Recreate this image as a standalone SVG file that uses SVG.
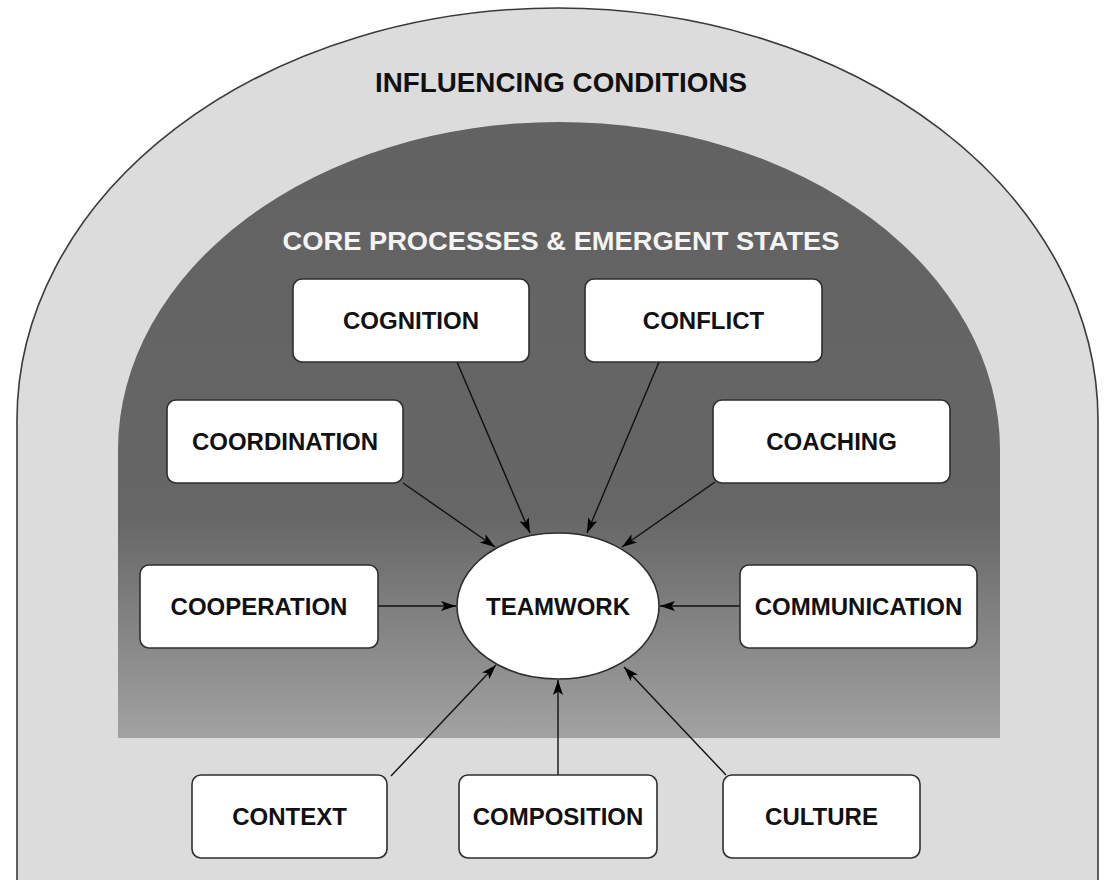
<svg xmlns="http://www.w3.org/2000/svg" width="1109" height="880" viewBox="0 0 1109 880">
  <defs>
    <linearGradient id="coreGrad" gradientUnits="userSpaceOnUse" x1="0" y1="122" x2="0" y2="738">
      <stop offset="0" stop-color="#626262"/>
      <stop offset="0.64" stop-color="#666666"/>
      <stop offset="1" stop-color="#a2a2a2"/>
    </linearGradient>
    <marker id="arrow" markerUnits="userSpaceOnUse" markerWidth="16" markerHeight="12" refX="15" refY="5" orient="auto">
      <path d="M0,0 L15,5 L0,10 L3.5,5 Z" fill="#000"/>
    </marker>
    <style>
      .box { fill: #ffffff; stroke: #2e2e2e; stroke-width: 1.6; }
      .lbl { font-family: "Liberation Sans", Arial, sans-serif; font-weight: bold; font-size: 24px; fill: #111111; text-anchor: middle; }
      .title { font-family: "Liberation Sans", Arial, sans-serif; font-weight: bold; text-anchor: middle; }
      .conn { stroke: #111111; stroke-width: 1.4; fill: none; marker-end: url(#arrow); }
    </style>
  </defs>

  <rect x="0" y="0" width="1109" height="880" fill="#ffffff"/>

  <g id="influencing-conditions">
    <path d="M17 880 L17 420 A540.5 412 0 0 1 1098 420 L1098 880 Z" fill="#dcdcdc"/>
    <path d="M17 880 L17 420 A540.5 412 0 0 1 1098 420 L1098 880" fill="none" stroke="#3a3a3a" stroke-width="1.6"/>
    <text class="title" x="561" y="92" font-size="28" fill="#111111" textLength="372" lengthAdjust="spacingAndGlyphs">INFLUENCING CONDITIONS</text>
  </g>

  <g id="core-processes">
    <path d="M118 738 L118 450 A441 328 0 0 1 1000 450 L1000 738 Z" fill="url(#coreGrad)"/>
    <text class="title" x="561" y="250" font-size="26.5" fill="#f4f4f4" textLength="557" lengthAdjust="spacingAndGlyphs">CORE PROCESSES &amp; EMERGENT STATES</text>
  </g>

  <g id="connectors">
    <line class="conn" x1="457" y1="362" x2="530" y2="533"/>
    <line class="conn" x1="659" y1="362" x2="587" y2="533"/>
    <line class="conn" x1="403" y1="483" x2="495" y2="547"/>
    <line class="conn" x1="715" y1="482" x2="622" y2="547"/>
    <line class="conn" x1="378" y1="606" x2="456" y2="606"/>
    <line class="conn" x1="740" y1="606" x2="660" y2="606"/>
    <line class="conn" x1="391" y1="776" x2="496" y2="665"/>
    <line class="conn" x1="558" y1="775" x2="558" y2="680"/>
    <line class="conn" x1="726" y1="775" x2="624" y2="667"/>
  </g>

  <g id="teamwork">
    <ellipse cx="558" cy="606" rx="101" ry="73" fill="#ffffff" stroke="#2e2e2e" stroke-width="1.6"/>
    <text class="lbl" x="558" y="615">TEAMWORK</text>
  </g>

  <g id="cognition">
    <rect class="box" x="293" y="279" width="236" height="83" rx="9"/>
    <text class="lbl" x="411" y="329">COGNITION</text>
  </g>
  <g id="conflict">
    <rect class="box" x="585" y="279" width="237" height="83" rx="9"/>
    <text class="lbl" x="703.5" y="329">CONFLICT</text>
  </g>
  <g id="coordination">
    <rect class="box" x="167" y="400" width="236" height="83" rx="9"/>
    <text class="lbl" x="285" y="450">COORDINATION</text>
  </g>
  <g id="coaching">
    <rect class="box" x="713" y="400" width="237" height="83" rx="9"/>
    <text class="lbl" x="831.5" y="450">COACHING</text>
  </g>
  <g id="cooperation">
    <rect class="box" x="140" y="565" width="238" height="83" rx="9"/>
    <text class="lbl" x="259" y="615">COOPERATION</text>
  </g>
  <g id="communication">
    <rect class="box" x="740" y="565" width="237" height="83" rx="9"/>
    <text class="lbl" x="858.5" y="615">COMMUNICATION</text>
  </g>
  <g id="context">
    <rect class="box" x="192" y="775" width="195" height="83" rx="9"/>
    <text class="lbl" x="289.5" y="825">CONTEXT</text>
  </g>
  <g id="composition">
    <rect class="box" x="459" y="775" width="198" height="83" rx="9"/>
    <text class="lbl" x="558" y="825">COMPOSITION</text>
  </g>
  <g id="culture">
    <rect class="box" x="723" y="775" width="197" height="83" rx="9"/>
    <text class="lbl" x="821.5" y="825">CULTURE</text>
  </g>
</svg>
